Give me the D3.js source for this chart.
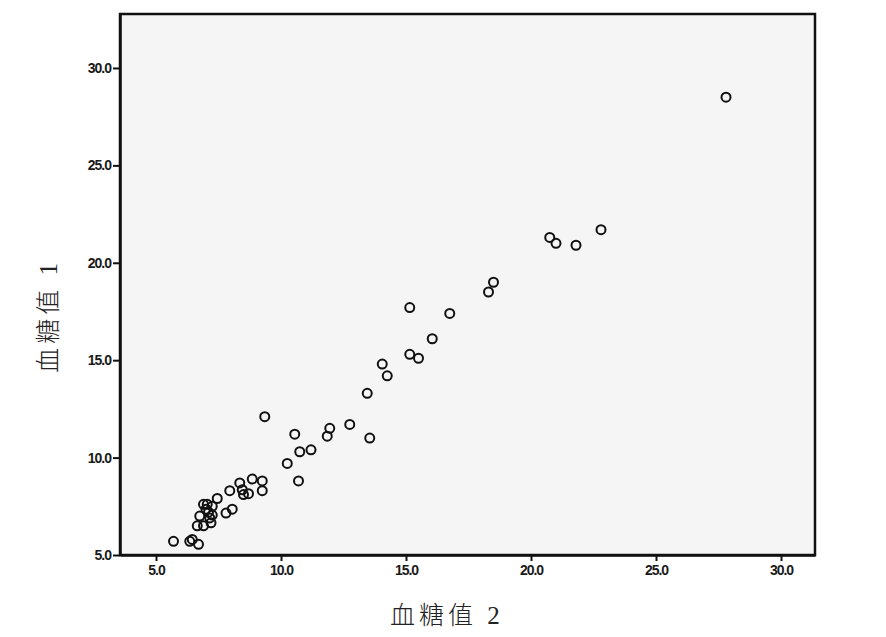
<!DOCTYPE html>
<html>
<head>
<meta charset="utf-8">
<script src="https://cdn.jsdelivr.net/npm/d3@7/dist/d3.min.js"></script>
<style>
  html, body { margin: 0; padding: 0; background: #fff; }
  svg { display: block; }
</style>
</head>
<body>
<svg id="chart" width="886" height="637"></svg>
<script>
// 血糖值2 (x) and 血糖值1 (y)
const glucose2 = [5.7, 6.35, 6.45, 6.7, 6.65, 6.9, 7.2, 6.75, 6.9, 7.05, 7.25, 7.1, 7.25, 7.15, 7.0,
  7.45, 7.8, 8.05, 7.95, 8.35, 8.45, 8.5, 8.7, 8.85, 9.25, 9.25, 9.35, 10.25, 10.7, 10.55, 10.75,
  11.2, 11.85, 11.95, 12.75, 13.55, 13.45, 14.05, 14.25, 15.15, 15.5, 15.15, 16.05, 16.75, 18.3,
  18.5, 20.75, 21.0, 21.8, 22.8, 27.8];
const glucose1 = [5.7, 5.7, 5.8, 5.55, 6.5, 6.5, 6.65, 7.0, 7.6, 7.6, 7.5, 7.2, 7.05, 6.9, 7.35,
  7.9, 7.15, 7.35, 8.3, 8.7, 8.35, 8.1, 8.15, 8.9, 8.8, 8.3, 12.1, 9.7, 8.8, 11.2, 10.3,
  10.4, 11.1, 11.5, 11.7, 11.0, 13.3, 14.8, 14.2, 15.3, 15.1, 17.7, 16.1, 17.4, 18.5,
  19.0, 21.3, 21.0, 20.9, 21.7, 28.5];
const xTicks = [5, 10, 15, 20, 25, 30];
const yTicks = [5, 10, 15, 20, 25, 30];
const xTitle = "血糖值 2";
const yTitle = "血糖值 1";

const svg = d3.select("#chart");
const pL = 120, pR = 815, pT = 14, pB = 555;

const x = d3.scaleLinear().domain([3.56, 31.36]).range([pL, pR]);
const y = d3.scaleLinear().domain([5, 32.77]).range([pB, pT]);

svg.append("rect")
  .attr("x", pL).attr("y", pT)
  .attr("width", pR - pL).attr("height", pB - pT)
  .attr("fill", "#f5f5f5")
  .attr("stroke", "#111").attr("stroke-width", 2.5);

const fmt = d3.format(".1f");

const xAxis = svg.append("g")
  .attr("transform", `translate(0,${pB})`)
  .call(d3.axisBottom(x).tickValues(xTicks).tickFormat(fmt).tickSize(6).tickSizeOuter(0).tickPadding(4));
const yAxis = svg.append("g")
  .attr("transform", `translate(${pL},0)`)
  .call(d3.axisLeft(y).tickValues(yTicks).tickFormat(fmt).tickSize(7).tickSizeOuter(0).tickPadding(2));

[xAxis, yAxis].forEach(g => {
  g.select(".domain").attr("stroke", "#111").attr("stroke-width", 2.5);
  g.selectAll(".tick line").attr("stroke", "#111").attr("stroke-width", 2);
  g.selectAll(".tick text")
    .attr("fill", "#1a1a1a")
    .style("font-family", "'Liberation Sans', Arial, sans-serif")
    .style("font-weight", "bold")
    .style("font-size", "14px")
    .style("letter-spacing", "-1px");
});

svg.append("g")
  .selectAll("circle")
  .data(glucose2.map((v, i) => [v, glucose1[i]]))
  .join("circle")
  .attr("cx", d => x(d[0]))
  .attr("cy", d => y(d[1]))
  .attr("r", 4.5)
  .attr("fill", "none")
  .attr("stroke", "#111")
  .attr("stroke-width", 2);

svg.append("text")
  .attr("x", 447).attr("y", 624)
  .attr("text-anchor", "middle")
  .style("font-family", "'Liberation Serif', 'Noto Sans CJK SC', serif")
  .style("font-size", "25px")
  .style("font-weight", "300")
  .style("letter-spacing", "4px")
  .attr("fill", "#222")
  .text(xTitle);

svg.append("text")
  .attr("transform", "translate(57,316) rotate(-90)")
  .attr("text-anchor", "middle")
  .style("font-family", "'Liberation Serif', 'Noto Sans CJK SC', serif")
  .style("font-size", "25px")
  .style("font-weight", "300")
  .style("letter-spacing", "4px")
  .attr("fill", "#222")
  .text(yTitle);
</script>
</body>
</html>
